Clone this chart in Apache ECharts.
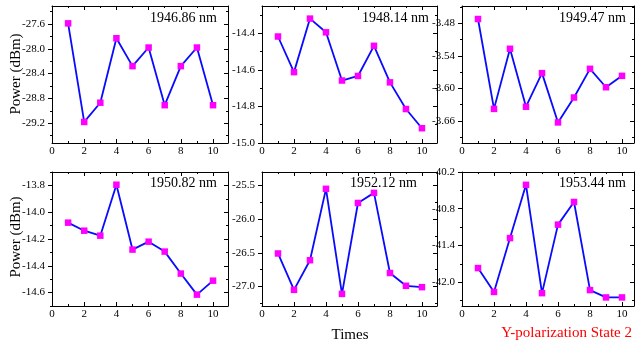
<!DOCTYPE html>
<html><head><meta charset="utf-8">
<script src="https://cdn.jsdelivr.net/npm/echarts@6/dist/echarts.min.js"></script>
<style>html,body{margin:0;padding:0;background:#fff}#c{width:636px;height:345px}</style>
</head><body><div id="c"></div>
<script>
// ---- data ----
const times = [1, 2, 3, 4, 5, 6, 7, 8, 9, 10];
const wavelengths = ['1946.86 nm', '1948.14 nm', '1949.47 nm', '1950.82 nm', '1952.12 nm', '1953.44 nm'];
const p1946 = [-27.59, -29.18, -28.87, -27.83, -28.28, -27.98, -28.91, -28.28, -27.98, -28.91];
const p1948 = [-14.417, -14.612, -14.319, -14.394, -14.658, -14.633, -14.468, -14.668, -14.814, -14.919];
const p1949 = [-3.472, -3.638, -3.527, -3.634, -3.572, -3.663, -3.617, -3.564, -3.598, -3.577];
const p1950 = [-14.078, -14.138, -14.175, -13.795, -14.279, -14.220, -14.294, -14.458, -14.615, -14.511];
const p1952 = [-26.51, -27.05, -26.61, -25.55, -27.11, -25.76, -25.61, -26.80, -26.99, -27.01];
const p1953 = [-41.77, -42.16, -41.28, -40.41, -42.18, -41.06, -40.69, -42.13, -42.25, -42.25];
const xTickLabels = [0, 2, 4, 6, 8, 10];
const xMinorTicks = [1, 3, 5, 7, 9];
const yTicks1946 = [-29.2, -28.8, -28.4, -28.0, -27.6];
const yMinor1946 = [-29.4, -29.0, -28.6, -28.2, -27.8, -27.4];
const yTicks1948 = [-15.0, -14.8, -14.6, -14.4];
const yMinor1948 = [-14.9, -14.7, -14.5, -14.3];
const yTicks1949 = [-3.66, -3.60, -3.54, -3.48];
const yMinor1949 = [-3.69, -3.63, -3.57, -3.51, -3.45];
const yTicks1950 = [-14.6, -14.4, -14.2, -14.0, -13.8];
const yMinor1950 = [-14.7, -14.5, -14.3, -14.1, -13.9, -13.7];
const yTicks1952 = [-27.0, -26.5, -26.0, -25.5];
const yMinor1952 = [-27.25, -26.75, -26.25, -25.75];
const yTicks1953 = [-42.0, -41.4, -40.8, -40.2];
const yMinor1953 = [-42.3, -41.7, -41.1, -40.5];
const yRange1946 = [-29.52, -27.31];
const yRange1948 = [-15.0, -14.25];
const yRange1949 = [-3.701, -3.448];
const yRange1950 = [-14.70, -13.70];
const yRange1952 = [-27.29, -25.30];
const yRange1953 = [-42.39, -40.20];

// ---- layout ----
const panels = [
  {vals: p1946, ticks: yTicks1946, minor: yMinor1946, range: yRange1946, dec: 1, grid: {left: 52, top: 6, width: 176, height: 137}, xMax: 10.93, lx: 217, ly: 18},
  {vals: p1948, ticks: yTicks1948, minor: yMinor1948, range: yRange1948, dec: 1, grid: {left: 262, top: 6, width: 175, height: 137}, xMax: 10.94, lx: 429, ly: 18},
  {vals: p1949, ticks: yTicks1949, minor: yMinor1949, range: yRange1949, dec: 2, grid: {left: 462, top: 6, width: 172, height: 137}, xMax: 10.75, lx: 626, ly: 18},
  {vals: p1950, ticks: yTicks1950, minor: yMinor1950, range: yRange1950, dec: 1, grid: {left: 52, top: 172, width: 176, height: 134}, xMax: 10.93, lx: 217, ly: 183},
  {vals: p1952, ticks: yTicks1952, minor: yMinor1952, range: yRange1952, dec: 1, grid: {left: 262, top: 172, width: 175, height: 134}, xMax: 10.94, lx: 417, ly: 183},
  {vals: p1953, ticks: yTicks1953, minor: yMinor1953, range: yRange1953, dec: 1, grid: {left: 462, top: 172, width: 172, height: 134}, xMax: 10.75, lx: 626, ly: 183}
];
const FONT = 'Liberation Serif';
const grids = [], xAxes = [], yAxes = [], series = [], graphics = [];

function axisBase(type, gi, pos, min, max, showLine) {
  return {type: 'value', gridIndex: gi, position: pos, min: min, max: max,
    axisLine: {show: showLine, onZero: false, lineStyle: {color: '#000', width: 1}},
    splitLine: {show: false}, minorTick: {show: false}, minorSplitLine: {show: false}};
}
function addAxis(list, type, gi, pos, min, max, vals, len, inside, labels, dec, isMain) {
  const a = axisBase(type, gi, pos, min, max, isMain);
  a.axisTick = {show: true, customValues: vals, length: len, inside: inside, lineStyle: {color: '#000', width: 1}};
  if (labels) {
    a.axisLabel = {show: true, customValues: vals, color: '#000', fontFamily: FONT, fontSize: 11,
      margin: type === 'x' ? 3 : 7, formatter: v => (dec == null ? String(v) : Number(v).toFixed(dec))};
  } else {
    a.axisLabel = {show: false};
  }
  list.push(a);
  return list.length - 1;
}

panels.forEach((p, gi) => {
  grids.push(Object.assign({containLabel: false}, p.grid));
  const [x0, x1] = [0, p.xMax];
  const [y0, y1] = p.range;
  const xi = addAxis(xAxes, 'x', gi, 'bottom', x0, x1, xTickLabels, 4, true, true, null, true);
  addAxis(xAxes, 'x', gi, 'bottom', x0, x1, xMinorTicks, 2, true, false, null, false);
  addAxis(xAxes, 'x', gi, 'top', x0, x1, xTickLabels, 4, true, false, null, true);
  addAxis(xAxes, 'x', gi, 'top', x0, x1, xMinorTicks, 2, true, false, null, false);
  const yi = addAxis(yAxes, 'y', gi, 'left', y0, y1, p.ticks, 4, false, true, p.dec, true);
  addAxis(yAxes, 'y', gi, 'left', y0, y1, p.minor, 2, false, false, null, false);
  addAxis(yAxes, 'y', gi, 'right', y0, y1, p.ticks, 4, true, false, null, true);
  addAxis(yAxes, 'y', gi, 'right', y0, y1, p.minor, 2, true, false, null, false);
  series.push({type: 'line', xAxisIndex: xi, yAxisIndex: yi,
    data: times.map((t, j) => [t, p.vals[j]]),
    lineStyle: {color: '#0a0aff', width: 1.8}, symbol: 'rect', symbolSize: 6.5,
    itemStyle: {color: '#ff00ff'}, showSymbol: true, z: 3});
  graphics.push({type: 'text', x: p.lx, y: p.ly, z: 10,
    style: {text: wavelengths[gi], textAlign: 'right', textVerticalAlign: 'middle', fill: '#000', font: '14px "' + FONT + '"'}});
});

graphics.push({type: 'text', x: 16, y: 74, rotation: Math.PI / 2, z: 10,
  style: {text: 'Power (dBm)', textAlign: 'center', textVerticalAlign: 'middle', fill: '#000', font: '15px "' + FONT + '"'}});
graphics.push({type: 'text', x: 16, y: 237, rotation: Math.PI / 2, z: 10,
  style: {text: 'Power (dBm)', textAlign: 'center', textVerticalAlign: 'middle', fill: '#000', font: '15px "' + FONT + '"'}});
graphics.push({type: 'text', x: 350, y: 335, z: 10,
  style: {text: 'Times', textAlign: 'center', textVerticalAlign: 'middle', fill: '#000', font: '15px "' + FONT + '"'}});
graphics.push({type: 'text', x: 632, y: 333, z: 10,
  style: {text: 'Y-polarization State 2', textAlign: 'right', textVerticalAlign: 'middle', fill: '#ff0000', font: '15px "' + FONT + '"'}});

const chart = echarts.init(document.getElementById('c'), null, {renderer: 'canvas'});
chart.setOption({animation: false, backgroundColor: '#fff', grid: grids, xAxis: xAxes, yAxis: yAxes, series: series, graphic: graphics});
</script></body></html>
